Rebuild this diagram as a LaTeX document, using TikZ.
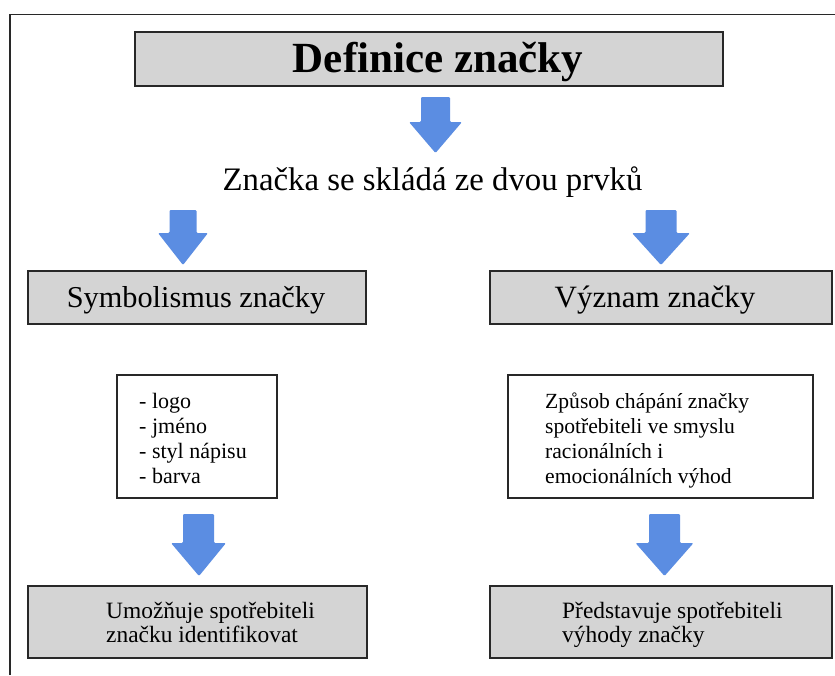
\documentclass[tikz,border=0pt]{standalone}
\usepackage{fontspec}
\setmainfont{Liberation Serif}
\usetikzlibrary{calc}
\definecolor{arrowblue}{RGB}{91,141,226}
\definecolor{boxgray}{RGB}{212,212,212}
\definecolor{framegray}{RGB}{40,40,40}
\tikzset{
  graybox/.style={draw=framegray, line width=1.6pt, fill=boxgray, inner sep=0pt},
  whitebox/.style={draw=framegray, line width=1.9pt, fill=white, inner sep=0pt},
  lbl/.style={inner sep=0pt, anchor=base},
  lblw/.style={inner sep=0pt, anchor=base west},
  blockarrow/.style={fill=arrowblue, rounded corners=1.2pt},
}
% #1 top coordinate, #2 tip coordinate, #3 head start (distance from top), #4 shaft half width, #5 head half width
\newcommand{\blockarr}[5]{%
  \path[blockarrow] ($(#1)+(-#4,0)$) -- ($(#1)+(#4,0)$) -- ($(#1)+(#4,#3)$) -- ($(#1)+(#5,#3)$) -- (#2) -- ($(#1)+(-#5,#3)$) -- ($(#1)+(-#4,#3)$) -- cycle;
}
\begin{document}
\begin{tikzpicture}[x=1pt,y=-1pt]
\useasboundingbox (0,0) rectangle (835,675);
\fill[white] (0,0) rectangle (835,675);
% outer frame
\coordinate (fbl) at (10,675);
\coordinate (ftl) at (10,14.5);
\coordinate (ftr) at (835,14.5);
\draw[framegray, line width=1.3pt] (fbl) -- (ftl) -- (ftr);

% title
\node[graybox, minimum width=588pt, minimum height=54pt] (title) at (429,59) {};
\node[lbl] (titletxt) at (438,72) {\fontsize{43}{43}\selectfont\bfseries Definice značky};

% arrow 1
\coordinate (a1s) at (435.5,97);
\coordinate (a1e) at (435.5,153);
\blockarr{a1s}{a1e}{25}{14.5}{26.5}

\node[lbl] (sub) at (432.5,190) {\fontsize{32.8}{33}\selectfont Značka se skládá ze dvou prvků};

% arrows 2,3
\coordinate (a2s) at (183,210);
\coordinate (a2e) at (183,265);
\blockarr{a2s}{a2e}{23}{13.5}{25}
\coordinate (a3s) at (661,210);
\coordinate (a3e) at (661,265);
\blockarr{a3s}{a3e}{23}{15.5}{29}

% second row
\node[graybox, minimum width=338pt, minimum height=53pt] (sym) at (197,297.5) {};
\node[lbl] (symtxt) at (196,307) {\fontsize{30.3}{31}\selectfont Symbolismus značky};
\node[graybox, minimum width=342pt, minimum height=53pt] (vyz) at (661,297.5) {};
\node[lbl] (vyztxt) at (655,307) {\fontsize{31}{31}\selectfont Význam značky};

% third row
\node[whitebox, minimum width=160pt, minimum height=123pt] (list) at (197,436.5) {};
\node[lblw] (listtxt) at (139,408) {\parbox[t]{130pt}{\fontsize{22}{25}\selectfont - logo\\- jméno\\- styl nápisu\\- barva}};
\node[whitebox, minimum width=305pt, minimum height=123pt] (zpus) at (660.5,436.5) {};
\node[lblw] (zpustxt) at (545,408) {\parbox[t]{260pt}{\fontsize{21.6}{25}\selectfont Způsob chápání značky\\spotřebiteli ve smyslu\\racionálních i\\emocionálních výhod}};

% arrows 4,5
\coordinate (a4s) at (198.5,514);
\coordinate (a4e) at (199,576);
\blockarr{a4s}{a4e}{29}{15.5}{27.5}
\coordinate (a5s) at (664.5,514);
\coordinate (a5e) at (664.5,576);
\blockarr{a5s}{a5e}{29}{15.5}{29}

% bottom row
\node[graybox, minimum width=339pt, minimum height=72pt] (umoz) at (197.5,622) {};
\node[lblw] (umoztxt) at (106,618) {\parbox[t]{260pt}{\fontsize{23.4}{24.5}\selectfont Umožňuje spotřebiteli\\značku identifikovat}};
\node[graybox, minimum width=342pt, minimum height=72pt] (pred) at (661,622) {};
\node[lblw] (predtxt) at (562,618) {\parbox[t]{260pt}{\fontsize{23.4}{24.5}\selectfont Představuje spotřebiteli\\výhody značky}};
\end{tikzpicture}
\end{document}
